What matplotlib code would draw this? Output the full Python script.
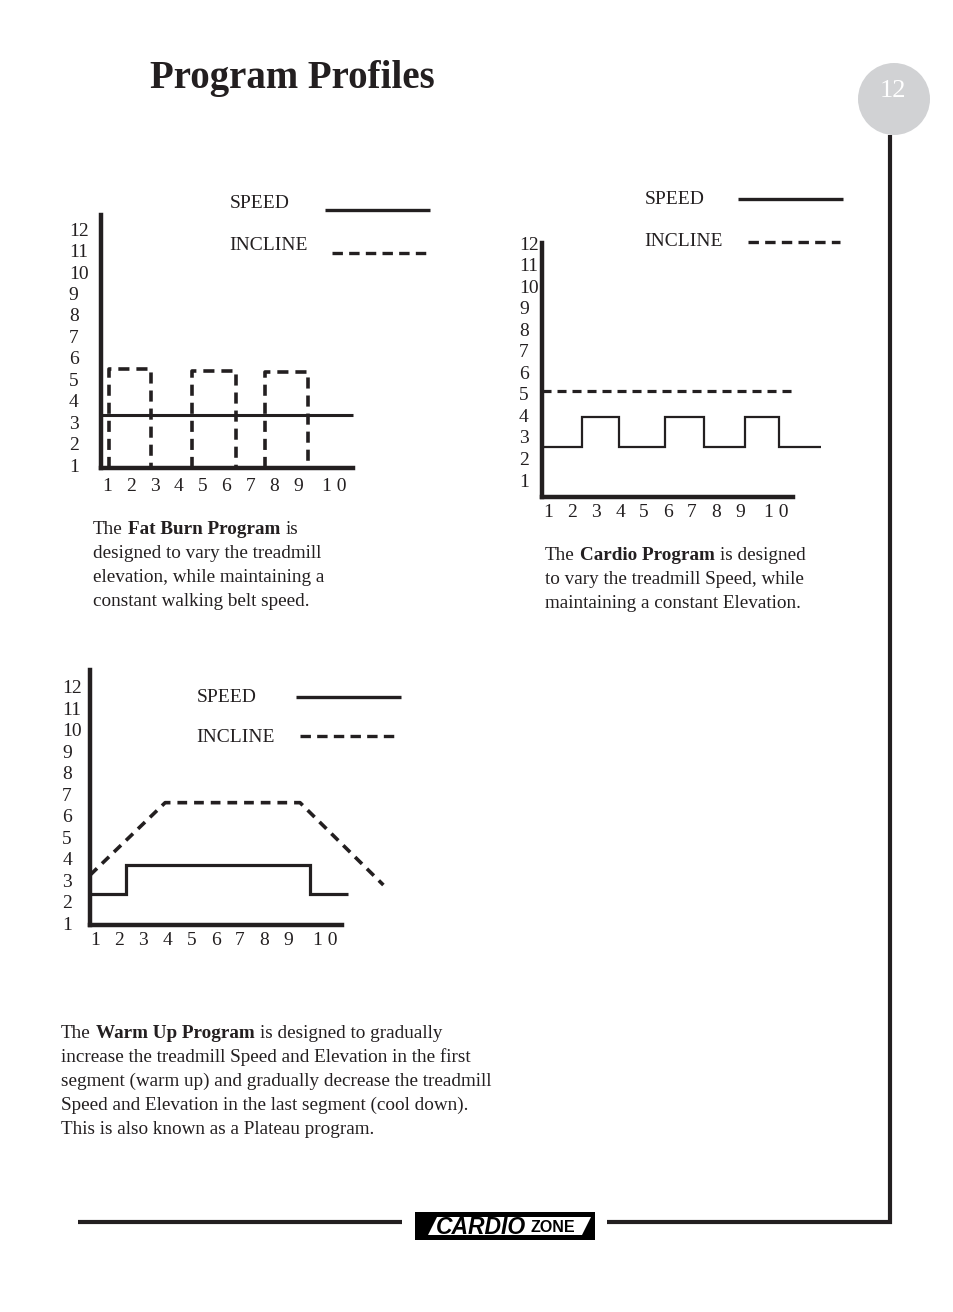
"""
Program Profiles page: Fat Burn, Cardio and Warm Up speed / incline charts.
"""
import matplotlib
matplotlib.use("Agg")
import matplotlib.pyplot as plt
from matplotlib.patches import Circle, Polygon, Rectangle

# ---- data (segment on x, level on y) ----
SEGMENTS = [1, 2, 3, 4, 5, 6, 7, 8, 9, 10]
SEGMENT_LABELS = ["1", "2", "3", "4", "5", "6", "7", "8", "9", "1 0"]
LEVELS = list(range(1, 13))
LEVEL_LABELS = [str(v) for v in LEVELS]

# Fat Burn: constant speed, incline bumps
fat_speed_x = [0.75, 11.27]
fat_speed_y = [3.33, 3.33]
fat_incline_start = [1.11, 4.55, 7.60]
fat_incline_end = [2.84, 6.39, 9.42]
fat_incline_top = [5.46, 5.40, 5.34]
fat_incline_base = 0.85

# Cardio: alternating speed, constant incline
cardio_speed_edges = [0.74, 2.42, 3.96, 5.875, 7.5, 9.21, 10.625, 12.375]
cardio_speed_levels = [2.53, 3.93, 2.53, 3.93, 2.53, 3.93, 2.53]
cardio_incline_x = [0.74, 11.2]
cardio_incline_y = [5.14, 5.14]

# Warm Up: plateau
warm_speed_edges = [0.79, 2.28, 9.9, 11.48]
warm_speed_levels = [2.35, 3.70, 2.35]
warm_incline_x = [0.79, 3.9, 9.48, 12.93]
warm_incline_y = [3.23, 6.6, 6.6, 2.77]

INK = "#231f20"
SERIF = "Liberation Serif"
W, H = 954, 1312

plt.rcParams["lines.scale_dashes"] = False
plt.rcParams["font.family"] = [SERIF, "DejaVu Serif"]

fig = plt.figure(figsize=(W / 100, H / 100), dpi=100)
fig.patch.set_facecolor("white")

# page layer in pixel units for decoration and text
page = fig.add_axes([0, 0, 1, 1])
page.set_xlim(0, W)
page.set_ylim(H, 0)
page.axis("off")


def px_rect(left, top, right, bottom):
    return [left / W, 1 - bottom / H, (right - left) / W, (bottom - top) / H]


def setup_chart(box, xlim, ylim, ypad, xpad):
    ax = fig.add_axes(px_rect(*box))
    ax.set_xlim(*xlim)
    ax.set_ylim(*ylim)
    ax.patch.set_alpha(0)
    for s in ("top", "right"):
        ax.spines[s].set_visible(False)
    for s in ("left", "bottom"):
        ax.spines[s].set_linewidth(3.2)
        ax.spines[s].set_color(INK)
        ax.spines[s].set_capstyle("projecting")
    ax.set_xticks(SEGMENTS, SEGMENT_LABELS)
    ax.set_yticks(LEVELS, LEVEL_LABELS)
    ax.tick_params(length=0, labelsize=14, labelcolor=INK)
    ax.tick_params(axis="y", pad=ypad)
    ax.tick_params(axis="x", pad=xpad)
    for t in ax.get_yticklabels():
        t.set_ha("left")
    # the "1 0" label sits just right of its segment, letter-spaced
    ax.get_xticklabels()[-1].set_ha("left")
    ax.get_xticklabels()[-1].set_x(9.9)
    return ax


def legend(x_text, y_speed, y_incline, speed_line, incline_line, dash_lw=2.4):
    page.text(x_text, y_speed + 3, "SPEED", fontsize=14, color=INK, va="center")
    page.text(x_text - 1, y_incline + 3, "INCLINE", fontsize=14, color=INK, va="center")
    page.plot(speed_line[:2], [speed_line[2]] * 2, color=INK, lw=2.4,
              solid_capstyle="butt")
    page.plot(incline_line[:2], [incline_line[2]] * 2, color=INK, lw=dash_lw,
              dashes=(7.5, 4.5))


def rich_line(x, y, parts, size=13.8):
    prev = None
    for text, bold in parts:
        weight = "bold" if bold else "normal"
        if prev is None:
            prev = page.text(x, y, text, fontsize=size, fontweight=weight,
                             color=INK, va="baseline", ha="left")
        else:
            prev = page.annotate(text, xy=(1, 0), xycoords=prev, xytext=(3.8, 0),
                                 textcoords="offset points", fontsize=size,
                                 fontweight=weight, color=INK, va="bottom", ha="left")


def paragraph(x, y0, lines, step=24):
    for i, parts in enumerate(lines):
        rich_line(x, y0 + i * step, parts)


# title and page marker
page.text(150, 88, "Program Profiles", fontsize=28, fontweight="bold", color=INK,
          va="baseline", ha="left")
page.add_patch(Circle((894, 99), 36, color="#d1d2d4", lw=0))
page.text(893, 91, "12", fontsize=19, color="white", ha="center", va="center")
page.plot([890, 890], [135, 1224], color=INK, lw=3, solid_capstyle="butt")
page.plot([607, 892], [1222, 1222], color=INK, lw=3, solid_capstyle="butt")
page.plot([78, 402], [1222, 1222], color=INK, lw=3, solid_capstyle="butt")

# logo
page.add_patch(Rectangle((415, 1212), 180, 28, color="black", lw=0))
page.add_patch(Polygon([(428, 1235), (437, 1217), (591, 1217), (582, 1235)],
                       closed=True, color="white", lw=0))
page.text(436, 1227, "CARDIO", family=["Liberation Sans", "DejaVu Sans"],
          fontsize=16.5, fontweight="heavy", fontstyle="italic", color="black",
          va="center", ha="left")
page.text(531, 1227, "ZONE", family=["Liberation Sans Narrow", "Liberation Sans"],
          fontsize=11.5, fontweight="bold", color="black", va="center", ha="left")

# ---- chart 1: Fat Burn ----
ax1 = setup_chart((100.7, 215, 352.7, 468.3), (0.75, 11.27), (0.85, 12.66),
                  ypad=23, xpad=7)
ax1.plot(fat_speed_x, fat_speed_y, color=INK, lw=2.2, clip_on=False,
         solid_capstyle="butt")
for x0, x1, top in zip(fat_incline_start, fat_incline_end, fat_incline_top):
    ax1.plot([x0, x0, x1, x1], [fat_incline_base, top, top, fat_incline_base],
             color=INK, lw=2.6, dashes=(8, 5), clip_on=False)
legend(230, 200, 243, (325, 430, 210), (332, 428, 253))
paragraph(93, 534, [
    [("The", False), ("Fat Burn Program", True), ("is", False)],
    [("designed to vary the treadmill", False)],
    [("elevation, while maintaining a", False)],
    [("constant walking belt speed.", False)],
])

# ---- chart 2: Cardio ----
ax2 = setup_chart((541.7, 243, 793, 497), (0.74, 11.2), (0.21, 12.02),
                  ypad=16.3, xpad=5.3)
ax2.stairs(cardio_speed_levels, cardio_speed_edges, baseline=None, color=INK,
           lw=1.6, clip_on=False)
ax2.plot(cardio_incline_x, cardio_incline_y, color=INK, lw=2.3, dashes=(6.5, 4.3),
         clip_on=False)
legend(645, 196, 239, (738, 843, 199), (748, 840, 242))
paragraph(545, 560, [
    [("The", False), ("Cardio Program", True), ("is designed", False)],
    [("to vary the treadmill Speed, while", False)],
    [("maintaining a constant Elevation.", False)],
])

# ---- chart 3: Warm Up ----
ax3 = setup_chart((90, 670, 342.3, 925), (0.79, 11.23), (0.91, 12.77),
                  ypad=20, xpad=5.3)
ax3.stairs(warm_speed_levels, warm_speed_edges, baseline=None, color=INK,
           lw=2.3, clip_on=False)
ax3.plot(warm_incline_x, warm_incline_y, color=INK, lw=2.6, dashes=(7, 5),
         clip_on=False)
legend(197, 694, 734, (296, 401, 697), (300, 397, 736))
paragraph(61, 1038, [
    [("The", False), ("Warm Up Program", True), ("is designed to gradually", False)],
    [("increase the treadmill Speed and Elevation in the first", False)],
    [("segment (warm up) and gradually decrease the treadmill", False)],
    [("Speed and Elevation in the last segment (cool down).", False)],
    [("This is also known as a Plateau program.", False)],
])

fig.savefig("out.png", dpi=100)
plt.close(fig)
